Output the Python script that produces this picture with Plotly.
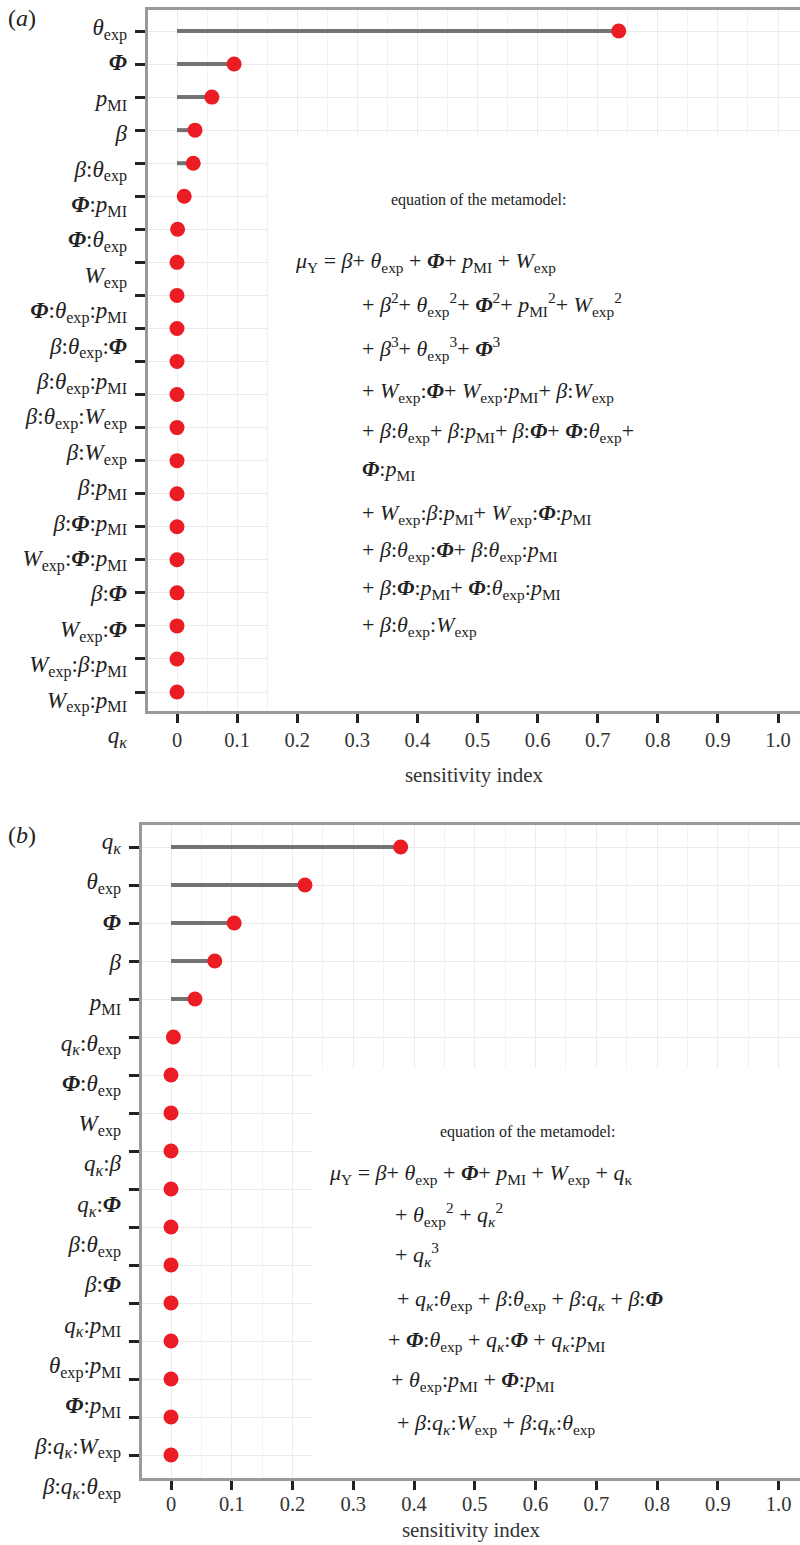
import plotly.graph_objects as go

W_FIG, H_FIG = 800, 1545
FONT = "Liberation Serif"

# ---- label building blocks ----
TH = "<i>θ</i><sub>exp</sub>"
PHI = "<b><i>Φ</i></b>"
P = "<i>p</i><sub>MI</sub>"
B = "<i>β</i>"
W = "<i>W</i><sub>exp</sub>"
Q = "<i>q</i><sub><i>κ</i></sub>"
QU = "<i>q</i><sub>κ</sub>"
MU = "<i>μ</i><sub>Y</sub>"


def j(*parts):
    return ":".join(parts)


# ---- data: panel (a) ----
labels_a = [TH, PHI, P, B, j(B, TH), j(PHI, P), j(PHI, TH), W, j(PHI, TH, P),
            j(B, TH, PHI), j(B, TH, P), j(B, TH, W), j(B, W), j(B, P), j(B, PHI, P),
            j(W, PHI, P), j(B, PHI), j(W, PHI), j(W, B, P), j(W, P), Q]
values_a = [0.735, 0.095, 0.058, 0.030, 0.027, 0.012, 0.001, 0.0, 0.0, 0.0, 0.0,
            0.0, 0.0, 0.0, 0.0, 0.0, 0.0, 0.0, 0.0, 0.0, 0.0]

# ---- data: panel (b) ----
labels_b = [Q, TH, PHI, B, P, j(Q, TH), j(PHI, TH), W, j(Q, B), j(Q, PHI), j(B, TH),
            j(B, PHI), j(Q, P), j(TH, P), j(PHI, P), j(B, Q, W), j(B, Q, TH)]
values_b = [0.378, 0.2205, 0.104, 0.072, 0.0395, 0.004, 0.0, 0.0, 0.0, 0.0, 0.0,
            0.0, 0.0, 0.0, 0.0, 0.0, 0.0]

x_ticks = [0, 0.1, 0.2, 0.3, 0.4, 0.5, 0.6, 0.7, 0.8, 0.9, 1.0]
x_ticktext = ["0", "0.1", "0.2", "0.3", "0.4", "0.5", "0.6", "0.7", "0.8", "0.9", "1.0"]

eq_title = "equation of the metamodel:"
eq_a = [
    MU + " = " + B + "+ " + TH + " + " + PHI + "+ " + P + " + " + W,
    "+ " + B + "<sup>2</sup>+ " + TH + "<sup>2</sup>+ " + PHI + "<sup>2</sup>+ " + P + "<sup>2</sup>+ " + W + "<sup>2</sup>",
    "+ " + B + "<sup>3</sup>+ " + TH + "<sup>3</sup>+ " + PHI + "<sup>3</sup>",
    "+ " + j(W, PHI) + "+ " + j(W, P) + "+ " + j(B, W),
    "+ " + j(B, TH) + "+ " + j(B, P) + "+ " + j(B, PHI) + "+ " + j(PHI, TH) + "+",
    j(PHI, P),
    "+ " + j(W, B, P) + "+ " + j(W, PHI, P),
    "+ " + j(B, TH, PHI) + "+ " + j(B, TH, P),
    "+ " + j(B, PHI, P) + "+ " + j(PHI, TH, P),
    "+ " + j(B, TH, W),
]
eq_b = [
    MU + " = " + B + "+ " + TH + " + " + PHI + "+ " + P + " + " + W + " + " + QU,
    "+ " + TH + "<sup>2</sup> + " + Q + "<sup>2</sup>",
    "+ " + Q + "<sup>3</sup>",
    "+ " + j(Q, TH) + " + " + j(B, TH) + " + " + j(B, Q) + " + " + j(B, PHI),
    "+ " + j(PHI, TH) + " + " + j(Q, PHI) + " + " + j(Q, P),
    "+ " + j(TH, P) + " + " + j(PHI, P),
    "+ " + j(B, Q, W) + " + " + j(B, Q, TH),
]


def px(x):
    return x / W_FIG


def py(y):
    return 1 - y / H_FIG


SEG = "#737373"
DOT = "#ec1c24"
GRID = "#ebebeb"
GRID_MINOR = "#f2f2f2"
AXLINE = "#9a9a9a"
TXT = "#222222"

fig = go.Figure()


def add_panel(labels, values, xa, ya, xl, yl):
    sx, sy = [], []
    for lab, v in zip(labels, values):
        sx += [0, v, None]
        sy += [lab, lab, None]
    fig.add_trace(go.Scatter(x=sx, y=sy, mode="lines", line=dict(color=SEG, width=4),
                             xaxis=xa, yaxis=ya, showlegend=False, hoverinfo="skip"))
    fig.add_trace(go.Scatter(x=values, y=labels, mode="markers",
                             marker=dict(color=DOT, size=15),
                             xaxis=xa, yaxis=ya, showlegend=False))
    # label carrier (drives the category labels axis)
    fig.add_trace(go.Scatter(x=[0] * len(labels), y=labels, mode="markers",
                             marker=dict(opacity=0), xaxis=xl, yaxis=yl,
                             showlegend=False, hoverinfo="skip"))


add_panel(labels_a, values_a, "x", "y", "x3", "y3")
add_panel(labels_b, values_b, "x2", "y2", "x4", "y4")


def xaxis_cfg(domain, rng, anchor, standoff):
    return dict(domain=domain, range=rng, anchor=anchor, tickmode="array",
                tickvals=x_ticks, ticktext=x_ticktext, ticks="outside", ticklen=9,
                tickwidth=2.5, tickcolor=TXT, showline=True, linecolor=AXLINE,
                linewidth=2.5, mirror=True, showgrid=True, gridcolor=GRID, gridwidth=1,
                zeroline=False,
                minor=dict(tick0=0, dtick=0.05, showgrid=True, gridcolor=GRID_MINOR,
                           gridwidth=1),
                tickfont=dict(family=FONT, size=20.5, color="#333333"),
                title=dict(text="sensitivity index", standoff=standoff,
                           font=dict(family=FONT, size=21, color="#333333")))


def yaxis_cfg(domain, rng, anchor, labels):
    return dict(domain=domain, range=rng, anchor=anchor, type="category",
                categoryorder="array", categoryarray=labels, showticklabels=False,
                ticks="outside", ticklen=10, tickwidth=2.5, tickcolor=TXT,
                showline=True, linecolor=AXLINE, linewidth=2.5, mirror=False,
                showgrid=True, gridcolor=GRID, gridwidth=1, zeroline=False)


def label_axis_cfg(domain, rng, pos, labels):
    return dict(domain=domain, range=rng, anchor="free", position=pos, side="left",
                type="category", categoryorder="array", categoryarray=labels,
                showline=False, showgrid=False, zeroline=False, ticks="",
                tickfont=dict(family=FONT, size=23, color=TXT))


# panel (a) geometry
dom_xa = [px(148), 1.0]
rng_xa = [-29 / 601, 623 / 601]
dom_ya = [py(711), py(10)]
rng_ya = [(711 - 31) / 33.05, (10 - 31) / 33.05]
# panel (b) geometry
dom_xb = [px(142), 1.0]
rng_xb = [-29 / 607.6, 629 / 607.6]
dom_yb = [py(1478), py(825)]
rng_yb = [(1478 - 847) / 38.0, (825 - 847) / 38.0]

# label axes: first label / spacing in px
LA0, LAS = 27.0, 35.4
LB0, LBS = 841.0, 40.3

fig.update_layout(
    width=W_FIG, height=H_FIG, margin=dict(l=0, r=0, t=0, b=0),
    paper_bgcolor="white", plot_bgcolor="rgba(0,0,0,0)",
    font=dict(family=FONT, color=TXT),
    xaxis=xaxis_cfg(dom_xa, rng_xa, "y", 17),
    yaxis=yaxis_cfg(dom_ya, rng_ya, "x", labels_a),
    xaxis2=xaxis_cfg(dom_xb, rng_xb, "y2", 8),
    yaxis2=yaxis_cfg(dom_yb, rng_yb, "x2", labels_b),
    xaxis3=dict(domain=dom_xa, range=rng_xa, anchor="y3", visible=False),
    yaxis3=label_axis_cfg([py(770), py(5)],
                          [(770 - LA0) / LAS, (5 - LA0) / LAS], px(127), labels_a),
    xaxis4=dict(domain=dom_xb, range=rng_xb, anchor="y4", visible=False),
    yaxis4=label_axis_cfg([py(1525), py(820)],
                          [(1525 - LB0) / LBS, (820 - LB0) / LBS], px(121), labels_b),
)
fig.update_xaxes(ticklabelstandoff=-3, selector=dict(anchor="y2"))

# white boxes behind the equations (cover the grid)
fig.add_shape(type="rect", xref="x", yref="y", x0=0.152, x1=1.1, y0=21.5,
              y1=(136 - 31) / 33.05, fillcolor="white", line=dict(width=0), layer="between")
fig.add_shape(type="rect", xref="x2", yref="y2", x0=0.232, x1=1.1, y0=17.5,
              y1=(1068 - 847) / 38.0, fillcolor="white", line=dict(width=0), layer="between")

ann = []
ann.append(dict(text="(<i>a</i>)", x=px(6), y=py(18), xanchor="left", yanchor="middle"))
ann.append(dict(text="(<i>b</i>)", x=px(6), y=py(835), xanchor="left", yanchor="middle"))
ann.append(dict(text=eq_title, x=px(479), y=py(200), xanchor="center", yanchor="middle"))
ann.append(dict(text=eq_title, x=px(528), y=py(1132), xanchor="center", yanchor="middle"))

eq_a_pos = [(293, 262), (360, 304), (360, 349), (360, 392), (360, 432), (360, 470),
            (360, 514), (360, 551), (360, 589), (360, 626)]
for t, (x, y) in zip(eq_a, eq_a_pos):
    ann.append(dict(text=t, x=px(x), y=py(y), xanchor="left", yanchor="middle"))

eq_b_pos = [(327, 1174), (393, 1214), (393, 1254), (395, 1300), (386, 1341),
            (389, 1381), (395, 1424)]
for t, (x, y) in zip(eq_b, eq_b_pos):
    ann.append(dict(text=t, x=px(x), y=py(y), xanchor="left", yanchor="middle"))

for a in ann:
    a.update(xref="paper", yref="paper", showarrow=False,
             font=dict(family=FONT, size=22, color=TXT))
ann[0]["font"]["size"] = 24
ann[1]["font"]["size"] = 24
ann[2]["font"]["size"] = 16
ann[3]["font"]["size"] = 16
fig.update_layout(annotations=ann)

fig.write_html("out.html")
